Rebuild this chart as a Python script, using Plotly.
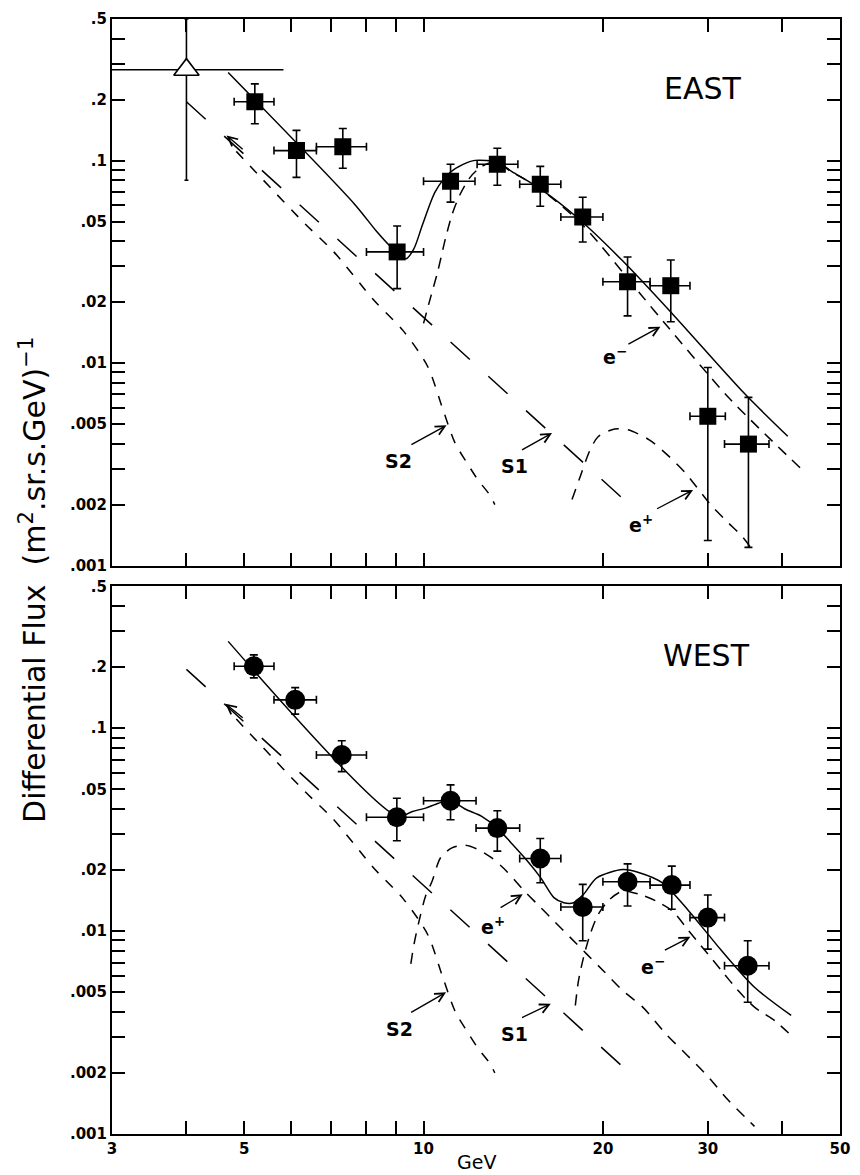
import numpy as np
import plotly.graph_objects as go

# ---------------- EAST data (filled squares) ----------------
east_E    = [5.21, 6.12, 7.32, 9.03, 11.1, 13.3, 15.7, 18.5, 22.0, 26.0, 30.0, 35.1]
east_E_lo = [4.81, 5.61, 6.61, 8.02, 10.0, 12.3, 14.5, 17.0, 20.0, 24.0, 28.0, 32.0]
east_E_hi = [5.61, 6.61, 8.02, 10.0, 12.2, 14.4, 17.0, 20.0, 24.0, 28.0, 32.1, 38.0]
east_F    = [0.195, 0.112, 0.117, 0.0354, 0.079, 0.0958, 0.0764, 0.0526, 0.0252, 0.0241, 0.00546, 0.00398]
east_F_lo = [0.152, 0.0826, 0.0916, 0.0233, 0.0623, 0.0755, 0.0595, 0.0396, 0.0171, 0.0160, 0.00133, 0.00123]
east_F_hi = [0.239, 0.141, 0.144, 0.0475, 0.0958, 0.115, 0.0936, 0.0659, 0.0334, 0.0323, 0.0095, 0.00677]

# open triangle (EAST, low-energy point)
tri_E    = [4.0]
tri_E_lo = [3.0]
tri_E_hi = [5.82]
tri_F    = [0.281]
tri_F_lo = [0.080]
tri_F_hi = [0.5]

# ---------------- WEST data (filled circles) ----------------
west_E    = [5.19, 6.09, 7.29, 9.02, 11.1, 13.3, 15.7, 18.5, 22.0, 26.1, 30.0, 35.0]
west_E_lo = [4.81, 5.61, 6.61, 8.02, 10.0, 12.25, 14.5, 17.0, 20.0, 24.0, 28.0, 32.0]
west_E_hi = [5.61, 6.61, 8.02, 10.0, 12.25, 14.5, 17.0, 20.0, 24.0, 28.0, 32.0, 38.0]
west_F    = [0.202, 0.138, 0.0738, 0.0364, 0.0439, 0.0322, 0.0228, 0.01315, 0.0175, 0.01686, 0.01166, 0.00675]
west_F_lo = [0.177, 0.1173, 0.0611, 0.0279, 0.0354, 0.0248, 0.0173, 0.00896, 0.0133, 0.01282, 0.00815, 0.00446]
west_F_hi = [0.230, 0.1585, 0.0868, 0.0452, 0.0526, 0.0392, 0.0286, 0.0170, 0.02146, 0.0209, 0.01507, 0.00896]

# ---------------- model curves ----------------
# S1 (long dash) and S2 (short dash), same in both panels
s1_E = [4.0, 22.0]
s1_F = [0.195, 0.00204]
s2_E = [4.85, 5.33, 6.33, 7.07, 8.27, 9.24, 10.16, 10.76, 11.3, 11.83, 12.34, 12.92, 13.17]
s2_F = [0.111, 0.0826, 0.0486, 0.0354, 0.0203, 0.01446, 0.00962, 0.00598, 0.00402, 0.00321, 0.00265, 0.00223, 0.00200]

# EAST
east_tot_E = [4.70, 7.66, 8.33, 8.82, 9.34, 9.63, 9.97, 10.47, 11.09, 11.65, 12.2, 13.32, 14.05, 15.75, 18.07, 21.6, 26.15, 34.54, 40.86]
east_tot_F = [0.272, 0.0609, 0.0449, 0.0374, 0.0327, 0.0366, 0.0486, 0.0705, 0.0875, 0.0958, 0.1002, 0.098, 0.0885, 0.0721, 0.0526, 0.0319, 0.01753, 0.00709, 0.00435]
east_em_E = [10.0, 10.28, 10.56, 10.88, 11.17, 11.52, 11.97, 12.53, 13.2, 14.0, 15.7, 18.56, 23.1, 25.7, 32.6, 42.9]
east_em_F = [0.0157, 0.0212, 0.0282, 0.041, 0.0543, 0.0682, 0.0826, 0.0936, 0.0985, 0.0885, 0.0725, 0.0475, 0.022, 0.0151, 0.0067, 0.00303]
east_ep_E = [17.75, 18.33, 19.04, 19.65, 20.94, 22.03, 23.92, 25.82, 27.5, 28.96, 30.45, 32.45, 34.2, 35.9]
east_ep_F = [0.00212, 0.00276, 0.00373, 0.00434, 0.00473, 0.00468, 0.00418, 0.00346, 0.00287, 0.00237, 0.00197, 0.00163, 0.00140, 0.00116]

# WEST
west_tot_E = [4.70, 9.05, 9.58, 10.08, 10.6, 11.1, 11.74, 12.52, 13.3, 14.03, 14.95, 15.73, 16.55, 17.2, 17.86, 18.56, 19.53, 21.6, 23.03, 25.17, 27.87, 31.65, 35.93, 41.4]
west_tot_F = [0.268, 0.0368, 0.0389, 0.0404, 0.0427, 0.0439, 0.0400, 0.0368, 0.0322, 0.0272, 0.0221, 0.0183, 0.01462, 0.0138, 0.0138, 0.01518, 0.0183, 0.0201, 0.0194, 0.0173, 0.01258, 0.0080, 0.00529, 0.00384]
west_ep_E = [9.52, 9.64, 9.83, 10.08, 10.34, 10.68, 11.16, 11.74, 12.36, 13.0, 13.77, 14.77, 15.53, 16.55, 17.64, 18.79, 20.03, 21.6, 23.33, 25.5, 27.87, 30.07, 32.45, 34.57, 35.93]
west_ep_F = [0.00689, 0.00863, 0.01123, 0.0149, 0.01765, 0.0230, 0.0257, 0.0265, 0.0252, 0.0230, 0.0198, 0.01575, 0.01356, 0.01123, 0.00929, 0.0077, 0.00638, 0.00509, 0.00422, 0.00312, 0.0024, 0.00191, 0.00147, 0.00122, 0.00109]
west_em_E = [17.98, 18.2, 18.56, 19.04, 19.65, 20.54, 21.6, 23.03, 24.54, 26.15, 27.87, 29.7, 31.65, 33.73, 35.93, 38.8, 41.4]
west_em_F = [0.0043, 0.0057, 0.00742, 0.00966, 0.01211, 0.01435, 0.01575, 0.01518, 0.01408, 0.01258, 0.01003, 0.0080, 0.00638, 0.00509, 0.00422, 0.00363, 0.00306]

# ---------------- axis ticks ----------------
x_label_vals = [3, 5, 10, 20, 30, 50]
x_label_text = ["3", "5", "10", "20", "30", "50"]
x_minor_vals = [4, 6, 7, 8, 9, 40]
x_long_vals = [10]
y_label_vals = [0.001, 0.002, 0.005, 0.01, 0.02, 0.05, 0.1, 0.2, 0.5]
y_label_text = [".001", ".002", ".005", ".01", ".02", ".05", ".1", ".2", ".5"]
y_minor_vals = [0.003, 0.004, 0.006, 0.007, 0.008, 0.009,
                0.03, 0.04, 0.06, 0.07, 0.08, 0.09, 0.3, 0.4]
y_long_vals = [0.01, 0.1]

FONT = "DejaVu Sans"
L = np.log10


def errs(v, lo, hi):
    v, lo, hi = map(np.asarray, (v, lo, hi))
    return dict(type="data", symmetric=False, array=hi - v, arrayminus=v - lo,
                color="black", thickness=1.6, width=4)


fig = go.Figure()


def curve(E, F, dash, xa, ya, spline=True, width=1.5):
    fig.add_trace(go.Scatter(
        x=E, y=F, mode="lines", xaxis=xa, yaxis=ya,
        line=dict(color="black", width=width, dash=dash,
                  shape="spline" if spline else "linear", smoothing=0.8),
        hoverinfo="skip", showlegend=False))


for xa, ya in (("x", "y"), ("x2", "y2")):
    curve(s1_E, s1_F, "26px,25px", xa, ya, spline=False)
    curve(s2_E, s2_F, "10px,10px", xa, ya)

# EAST curves
curve(east_tot_E, east_tot_F, "solid", "x", "y")
curve(east_em_E, east_em_F, "11px,8px", "x", "y")
curve(east_ep_E, east_ep_F, "11px,9px", "x", "y")
# WEST curves
curve(west_tot_E, west_tot_F, "solid", "x2", "y2")
curve(west_ep_E, west_ep_F, "11px,9px", "x2", "y2")
curve(west_em_E, west_em_F, "11px,8px", "x2", "y2")

# EAST points
fig.add_trace(go.Scatter(
    x=east_E, y=east_F, mode="markers", xaxis="x", yaxis="y",
    marker=dict(symbol="square", size=17, color="black"),
    error_x=errs(east_E, east_E_lo, east_E_hi),
    error_y=errs(east_F, east_F_lo, east_F_hi),
    showlegend=False))
tri_ex = errs(tri_E, tri_E_lo, tri_E_hi); tri_ex["width"] = 0
tri_ey = errs(tri_F, tri_F_lo, tri_F_hi); tri_ey["width"] = 2
fig.add_trace(go.Scatter(
    x=tri_E, y=tri_F, mode="markers", xaxis="x", yaxis="y",
    marker=dict(symbol="triangle-up", size=22, color="white",
                line=dict(color="black", width=1.6)),
    error_x=tri_ex, error_y=tri_ey, showlegend=False))

# WEST points
fig.add_trace(go.Scatter(
    x=west_E, y=west_F, mode="markers", xaxis="x2", yaxis="y2",
    marker=dict(symbol="circle", size=20, color="black"),
    error_x=errs(west_E, west_E_lo, west_E_hi),
    error_y=errs(west_F, west_F_lo, west_F_hi),
    showlegend=False))

XR = [L(3), L(50)]
YR = [L(0.001), L(0.5)]
top_dom = [0.5098, 1.0]
bot_dom = [0.0, 0.4911]

tickfont = dict(family=FONT, size=15, color="black", weight="bold")


def xaxis(anchor, labels):
    return dict(type="log", range=XR, anchor=anchor, domain=[0, 1],
                showline=True, linewidth=2, linecolor="black", mirror="ticks",
                ticks="inside", ticklen=13, tickwidth=1.5, tickcolor="black",
                tickmode="array", tickvals=x_label_vals, ticktext=x_label_text,
                showticklabels=labels, tickfont=tickfont,
                showgrid=False, zeroline=False,
                minor=dict(tickmode="array", tickvals=x_minor_vals, ticks="inside",
                           ticklen=13, tickwidth=1.5, tickcolor="black", showgrid=False))


def yaxis(anchor, dom):
    return dict(type="log", range=YR, anchor=anchor, domain=dom,
                showline=True, linewidth=2, linecolor="black", mirror="ticks",
                ticks="inside", ticklen=13, tickwidth=1.5, tickcolor="black",
                tickmode="array", tickvals=y_label_vals, ticktext=y_label_text,
                tickfont=tickfont, showgrid=False, zeroline=False,
                minor=dict(tickmode="array", tickvals=y_minor_vals, ticks="inside",
                           ticklen=13, tickwidth=1.5, tickcolor="black", showgrid=False))


# longer ticks at the decades (both sides / top and bottom of each panel)
PLOT_W = 738.0
shapes = []
for xr, yr, ph in (("x", "y", 549.0), ("x2", "y2", 550.0)):
    for yv in y_long_vals:
        for a, b in ((0, 22 / PLOT_W), (1 - 22 / PLOT_W, 1)):
            shapes.append(dict(type="line", xref=xr + " domain", yref=yr,
                               x0=a, x1=b, y0=L(yv), y1=L(yv),
                               line=dict(color="black", width=1.5)))
    for xv in x_long_vals:
        for a, b in ((0, 22 / ph), (1 - 22 / ph, 1)):
            shapes.append(dict(type="line", xref=xr, yref=yr + " domain",
                               x0=L(xv), x1=L(xv), y0=a, y1=b,
                               line=dict(color="black", width=1.5)))

annotations = []


def label(xref, yref, E, F, text, size=19, bold=True):
    annotations.append(dict(x=L(E), y=L(F), xref=xref, yref=yref, text=text, showarrow=False,
                            font=dict(family=FONT, size=size, color="black",
                                      weight="bold" if bold else "normal"),
                            xanchor="center", yanchor="middle"))


def arrow(xref, yref, tip, tail):
    annotations.append(dict(x=L(tip[0]), y=L(tip[1]), ax=L(tail[0]), ay=L(tail[1]),
                            xref=xref, yref=yref, axref=xref, ayref=yref, text=" ",
                            showarrow=True, arrowhead=5, arrowsize=1.3, arrowwidth=1.4,
                            arrowcolor="black", standoff=0, startstandoff=0,
                            font=dict(size=6)))


# EAST labels
label("x", "y", 9.06, 0.00328, "S2")
arrow("x", "y", (10.93, 0.00493), (9.45, 0.00389))
label("x", "y", 14.21, 0.0031, "S1")
arrow("x", "y", (16.43, 0.00451), (14.49, 0.00367))
label("x", "y", 20.96, 0.0108, "e<sup>\u2212</sup>")
arrow("x", "y", (24.98, 0.01513), (21.86, 0.0122))
label("x", "y", 23.14, 0.00161, "e<sup>+</sup>")
arrow("x", "y", (28.34, 0.00236), (24.42, 0.00188))
arrow("x", "y", (4.67, 0.133), (5.02, 0.111))

# WEST labels
label("x2", "y2", 9.11, 0.0033, "S2")
arrow("x2", "y2", (10.91, 0.00499), (9.44, 0.00391))
label("x2", "y2", 14.21, 0.00312, "S1")
arrow("x2", "y2", (16.35, 0.00438), (14.49, 0.0037))
label("x2", "y2", 13.07, 0.0106, "e<sup>+</sup>")
arrow("x2", "y2", (14.67, 0.01518), (13.34, 0.01282))
label("x2", "y2", 24.24, 0.00675, "e<sup>\u2212</sup>")
arrow("x2", "y2", (28.04, 0.00937), (25.17, 0.00794))
arrow("x2", "y2", (4.65, 0.1322), (5.02, 0.110))

# panel titles and axis titles
annotations += [
    dict(x=0.812, y=0.938, xref="paper", yref="paper", text="EAST", showarrow=False,
         font=dict(family=FONT, size=30, color="black"), xanchor="center", yanchor="middle"),
    dict(x=0.816, y=0.429, xref="paper", yref="paper", text="WEST", showarrow=False,
         font=dict(family=FONT, size=30, color="black"), xanchor="center", yanchor="middle"),
    dict(x=0.5, y=-0.0255, xref="paper", yref="paper", text="GeV", showarrow=False,
         font=dict(family=FONT, size=19, color="black"), xanchor="center", yanchor="middle"),
    dict(x=-0.108, y=0.4973, xref="paper", yref="paper", textangle=-90,
         text="Differential Flux  (m<sup>2</sup>.sr.s.GeV)<sup>\u22121</sup>",
         showarrow=False, font=dict(family=FONT, size=30, color="black"),
         xanchor="center", yanchor="middle"),
]

fig.update_layout(
    width=860, height=1175,
    margin=dict(l=112, r=10, t=14, b=41),
    paper_bgcolor="white", plot_bgcolor="white",
    font=dict(family=FONT, color="black"),
    showlegend=False,
    xaxis=xaxis("y", False),
    yaxis=yaxis("x", top_dom),
    xaxis2=xaxis("y2", True),
    yaxis2=yaxis("x2", bot_dom),
    shapes=shapes,
    annotations=annotations,
)

fig.write_html("out.html")
